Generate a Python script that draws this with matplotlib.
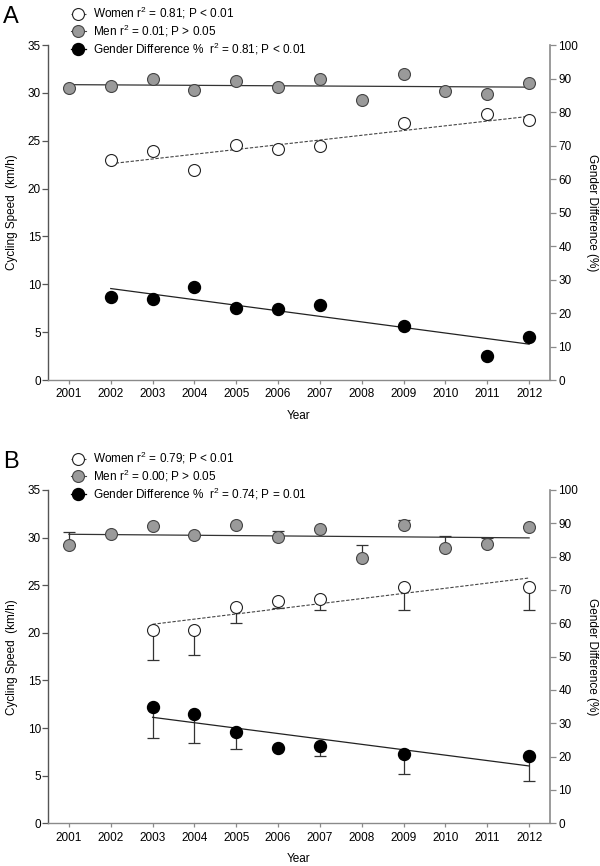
import matplotlib
matplotlib.use("Agg")
import matplotlib.pyplot as plt
from matplotlib.lines import Line2D

plt.rcParams["font.family"] = ["Liberation Sans", "DejaVu Sans"]
plt.rcParams["mathtext.fontset"] = "custom"
plt.rcParams["mathtext.rm"] = "Liberation Sans"
plt.rcParams["mathtext.it"] = "Liberation Sans:italic"

years = [2001, 2002, 2003, 2004, 2005, 2006, 2007, 2008, 2009, 2010, 2011, 2012]

# panel A
a_men = [30.5, 30.7, 31.45, 30.25, 31.25, 30.6, 31.4, 29.3, 32.0, 30.2, 29.9, 31.0]
a_women_years = [2002, 2003, 2004, 2005, 2006, 2007, 2009, 2011, 2012]
a_women = [23.0, 23.9, 21.9, 24.6, 24.1, 24.4, 26.9, 27.75, 27.2]
a_diff = [24.9, 24.1, 27.8, 21.4, 21.1, 22.4, 16.2, 7.3, 12.7]
a_men_trend = [30.86, 30.6]
a_women_trend = [22.6, 27.55]
a_diff_trend = [27.3, 10.7]
a_labels = ["Women r$^2$ = 0.81; P < 0.01",
            "Men r$^2$ = 0.01; P > 0.05",
            "Gender Difference %  r$^2$ = 0.81; P < 0.01"]

# panel B
b_men = [29.2, 30.4, 31.2, 30.3, 31.3, 30.05, 30.9, 27.85, 31.3, 28.9, 29.35, 31.1]
b_men_err = [1.4, 0, 0, 0, 0, 0.65, 0, 1.35, 0.6, 1.3, 0.65, 0]
b_women_years = [2003, 2004, 2005, 2006, 2007, 2009, 2012]
b_women = [20.25, 20.25, 22.7, 23.3, 23.6, 24.8, 24.8]
b_women_err = [3.1, 2.55, 1.7, 0.7, 1.2, 2.35, 2.4]
b_diff = [35.0, 32.7, 27.3, 22.5, 23.3, 20.7, 20.3]
b_diff_err = [9.5, 8.5, 5.1, 0, 3.0, 5.9, 7.6]
b_men_trend = [30.35, 29.97]
b_women_trend = [20.9, 25.76]
b_diff_trend = [31.8, 17.2]
b_labels = ["Women r$^2$ = 0.79; P < 0.01",
            "Men r$^2$ = 0.00; P > 0.05",
            "Gender Difference %  r$^2$ = 0.74; P = 0.01"]

MS = 8.6
GRAY_FACE = "#9a9a9a"


def draw_panel(fig, rect, letter, men, women_years, women, diff, men_trend,
               women_trend, diff_trend, labels, men_err=None, women_err=None,
               diff_err=None):
    ax = fig.add_axes(rect)
    ax2 = ax.twinx()

    # trend lines
    ax.plot([years[0], years[-1]], men_trend, color="#333333", lw=0.9, zorder=2)
    ax.plot([women_years[0], women_years[-1]], women_trend, color="#444444",
            lw=0.8, ls=(0, (3, 1.5)), zorder=2)
    ax2.plot([women_years[0], women_years[-1]], diff_trend, color="#222222",
             lw=0.9, zorder=2)

    # error bars (one-sided)
    if men_err is not None:
        ax.errorbar(years, men, yerr=[[0] * len(men), men_err], fmt="none",
                    ecolor="#333333", elinewidth=0.9, capsize=4, capthick=0.9,
                    zorder=1)
    if women_err is not None:
        ax.errorbar(women_years, women, yerr=[women_err, [0] * len(women)],
                    fmt="none", ecolor="#333333", elinewidth=0.9, capsize=4,
                    capthick=0.9, zorder=1)
    if diff_err is not None:
        ax2.errorbar(women_years, diff, yerr=[diff_err, [0] * len(diff)],
                     fmt="none", ecolor="#333333", elinewidth=0.9, capsize=4,
                     capthick=0.9, zorder=1)

    ax.plot(years, men, "o", ms=MS, mfc=GRAY_FACE, mec="#444444", mew=0.8,
            ls="none", zorder=3)
    ax.plot(women_years, women, "o", ms=MS, mfc="white", mec="#222222",
            mew=0.8, ls="none", zorder=3)
    ax2.plot(women_years, diff, "o", ms=MS, mfc="black", mec="black",
             ls="none", zorder=3)

    ax.set_xlim(2000.5, 2012.5)
    ax.set_ylim(0, 35)
    ax2.set_ylim(0, 100)
    ax.set_xticks(years)
    ax.set_xticklabels([str(y) for y in years])
    ax.set_yticks(range(0, 36, 5))
    ax2.set_yticks(range(0, 101, 10))

    for a in (ax, ax2):
        a.spines["top"].set_visible(False)
    ax.spines["right"].set_visible(False)
    ax2.spines["left"].set_visible(False)
    ax2.spines["bottom"].set_visible(False)
    ax.spines["left"].set_color("#555555")
    ax.spines["bottom"].set_color("#8a8a8a")
    ax2.spines["right"].set_color("#8a8a8a")
    for s in ("left", "bottom"):
        ax.spines[s].set_linewidth(1.0)
    ax2.spines["right"].set_linewidth(1.2)

    ax.tick_params(axis="y", length=4, width=0.9, color="#555555",
                   labelsize=8.5, pad=1)
    ax.tick_params(axis="x", length=3, width=0.9, color="#8a8a8a",
                   labelsize=8.5, pad=3)
    ax2.tick_params(axis="y", length=4, width=0.9, color="#8a8a8a",
                    labelsize=8.5, pad=2)

    ax.set_xlabel("Year", fontsize=8.5, labelpad=7)
    ax.set_ylabel("Cycling Speed  (km/h)", fontsize=8.5, labelpad=7)
    ax2.set_ylabel("Gender Difference (%)", fontsize=8.5, rotation=270,
                   labelpad=14)

    handles = [
        Line2D([], [], color="#444444", lw=0.8, ls=(0, (2, 1)), marker="o",
               ms=MS, mfc="white", mec="#222222", mew=0.8),
        Line2D([], [], color="#444444", lw=0.8, marker="o", ms=MS,
               mfc=GRAY_FACE, mec="#444444", mew=0.8),
        Line2D([], [], color="black", lw=0.9, marker="o", ms=MS,
               mfc="black", mec="black"),
    ]
    top = rect[1] + rect[3]
    fig.legend(handles, labels, loc="upper left",
               bbox_to_anchor=(0.118, top + 0.046), frameon=False,
               fontsize=8.5, handlelength=1.3, handletextpad=0.6,
               labelspacing=0.12, borderpad=0, borderaxespad=0)

    fig.text(0.005, top + 0.032, letter, fontsize=17, va="center", ha="left")
    return ax, ax2


fig = plt.figure(figsize=(6.0, 8.66), dpi=100)

draw_panel(fig, [0.08, 0.5612, 0.8367, 0.3868], "A", a_men, a_women_years,
           a_women, a_diff, a_men_trend, a_women_trend, a_diff_trend,
           a_labels)
draw_panel(fig, [0.08, 0.0493, 0.8367, 0.3849], "B", b_men, b_women_years,
           b_women, b_diff, b_men_trend, b_women_trend, b_diff_trend,
           b_labels, men_err=b_men_err, women_err=b_women_err,
           diff_err=b_diff_err)

fig.savefig("out.png", dpi=100)
